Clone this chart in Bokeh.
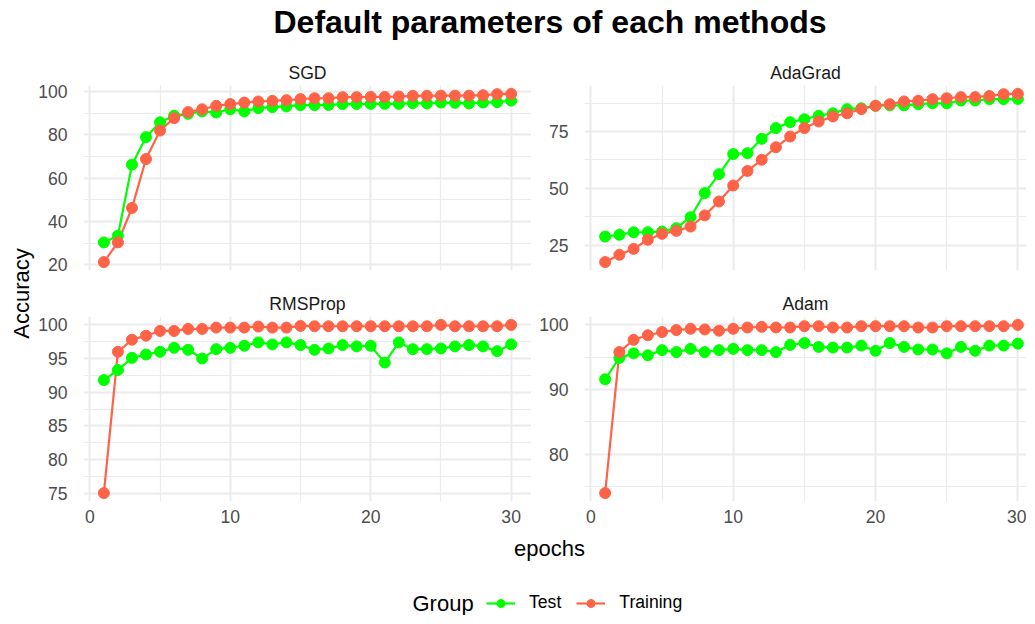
from bokeh.plotting import figure
from bokeh.layouts import column, row
from bokeh.models import Range1d, FixedTicker, Legend, LegendItem
from bokeh.core.properties import value
from bokeh.embed import file_html
from bokeh.resources import INLINE

# ---------------- data ----------------
epochs = [1, 2, 3, 4, 5, 6, 7, 8, 9, 10, 11, 12, 13, 14, 15,
          16, 17, 18, 19, 20, 21, 22, 23, 24, 25, 26, 27, 28, 29, 30]

sgd_test = [30.3, 33.4, 66.2, 78.9, 85.8, 88.8, 89.7, 90.8, 90.3, 91.8,
            90.8, 92.3, 92.8, 93.1, 93.7, 93.7, 93.8, 94.2, 94.2, 94.3,
            94.3, 94.3, 94.6, 94.5, 94.9, 94.8, 94.5, 94.9, 95.1, 95.8]
sgd_train = [21.2, 30.3, 46.2, 68.8, 82.0, 87.7, 90.5, 91.8, 93.4, 94.2,
             94.9, 95.4, 95.7, 96.0, 96.5, 96.9, 96.9, 97.4, 97.4, 97.5,
             97.5, 97.7, 98.0, 98.0, 98.1, 98.1, 98.1, 98.3, 98.8, 98.9]

adagrad_test = [28.9, 29.7, 30.8, 30.8, 31.1, 32.6, 37.4, 48.0, 56.3, 65.1,
                65.5, 71.8, 76.5, 79.1, 80.4, 81.9, 83.0, 84.8, 85.2, 86.3,
                86.5, 86.5, 87.0, 87.4, 87.4, 88.6, 88.6, 89.2, 89.2, 89.3]
adagrad_train = [17.7, 20.9, 23.5, 27.5, 30.1, 31.4, 33.3, 38.2, 44.3, 51.3,
                 57.7, 62.6, 68.1, 72.8, 76.5, 79.4, 81.6, 83.0, 84.8, 86.3,
                 87.0, 88.2, 88.5, 89.2, 89.6, 90.1, 90.1, 90.6, 91.4, 91.5]

rmsprop_test = [91.8, 93.3, 95.1, 95.6, 96.0, 96.6, 96.3, 95.0, 96.4, 96.6,
                96.9, 97.4, 97.1, 97.4, 97.0, 96.3, 96.5, 97.0, 96.8, 96.9,
                94.4, 97.4, 96.4, 96.4, 96.5, 96.8, 97.0, 96.8, 96.1, 97.1]
rmsprop_train = [75.0, 96.0, 97.8, 98.4, 99.1, 99.1, 99.4, 99.4, 99.6, 99.6,
                 99.6, 99.75, 99.6, 99.6, 99.85, 99.8, 99.8, 99.8, 99.8, 99.8,
                 99.8, 99.8, 99.8, 99.8, 100.0, 99.8, 99.8, 99.8, 99.8, 100.0]

adam_test = [91.6, 94.9, 95.6, 95.3, 96.1, 95.8, 96.3, 95.8, 96.1, 96.3,
             96.1, 96.1, 95.8, 96.9, 97.2, 96.6, 96.5, 96.5, 96.8, 96.0,
             97.2, 96.6, 96.2, 96.2, 95.6, 96.6, 96.0, 96.8, 96.8, 97.1]
adam_train = [74.0, 95.8, 97.7, 98.4, 98.9, 99.2, 99.4, 99.3, 99.1, 99.4,
              99.6, 99.7, 99.6, 99.6, 99.8, 99.8, 99.6, 99.6, 99.8, 99.8,
              99.8, 99.8, 99.6, 99.6, 99.8, 99.8, 99.8, 99.8, 99.8, 100.0]

x_ticks = [0, 10, 20, 30]
x_minor = [5, 15, 25]
sgd_ticks, sgd_minor = [20, 40, 60, 80, 100], [30, 50, 70, 90]
adagrad_ticks, adagrad_minor = [25, 50, 75], [37.5, 62.5, 87.5]
rmsprop_ticks, rmsprop_minor = [75, 80, 85, 90, 95, 100], [77.5, 82.5, 87.5, 92.5, 97.5]
adam_ticks, adam_minor = [80, 90, 100], [75, 85, 95]

title_text = "Default parameters of each methods"
group_names = ["Test", "Training"]

# ---------------- style ----------------
FONT = "Liberation Sans"
TEST_COLOR = "#00FF00"
TRAIN_COLOR = "#FF6347"
GRID = "#EBEBEB"
FRAME_H = 185
FRAME_W = 454

x_lo = min(epochs) - 0.05 * (max(epochs) - min(epochs))
x_hi = max(epochs) + 0.05 * (max(epochs) - min(epochs))
ppu = FRAME_W / (x_hi - x_lo)


def panel(name, test, train, yticks, yminor, width, left, top, bottom, show_x, frame_w):
    lo = min(min(test), min(train))
    hi = max(max(test), max(train))
    pad = 0.05 * (hi - lo)
    p = figure(width=width, height=top + FRAME_H + bottom,
               x_range=Range1d(x_lo, x_lo + frame_w / ppu),
               y_range=Range1d(lo - pad, hi + pad),
               output_backend="svg", toolbar_location=None,
               min_border_left=left, min_border_right=0,
               min_border_top=top, min_border_bottom=bottom,
               title=name)
    p.outline_line_color = None
    p.title.align = "center"
    p.title.text_font = FONT
    p.title.text_font_size = "17.6px"
    p.title.text_font_style = "normal"
    p.title.text_color = "#1A1A1A"
    p.title.standoff = 6

    xt = FixedTicker(ticks=x_ticks, minor_ticks=x_minor)
    yt = FixedTicker(ticks=yticks, minor_ticks=yminor)
    p.xaxis.ticker = xt
    p.yaxis.ticker = yt
    p.xgrid.ticker = xt
    p.ygrid.ticker = yt
    for g in (p.xgrid, p.ygrid):
        g.grid_line_color = GRID
        g.grid_line_width = 2
        g.minor_grid_line_color = GRID
        g.minor_grid_line_width = 1.2
    p.axis.axis_line_color = None
    p.axis.major_tick_line_color = None
    p.axis.minor_tick_line_color = None
    p.axis.major_tick_out = 0
    p.axis.major_tick_in = 0
    p.axis.major_label_text_font = FONT
    p.axis.major_label_text_font_size = "17.6px"
    p.axis.major_label_text_color = "#4D4D4D"
    p.yaxis.major_label_standoff = 12
    p.xaxis.major_label_standoff = 4
    p.xaxis.visible = show_x

    p.line(epochs, test, line_color=TEST_COLOR, line_width=2.2)
    p.line(epochs, train, line_color=TRAIN_COLOR, line_width=2.2)
    p.scatter(epochs, test, size=11, fill_color=TEST_COLOR, line_color=TEST_COLOR)
    p.scatter(epochs, train, size=11, fill_color=TRAIN_COLOR, line_color=TRAIN_COLOR)
    return p


LEFT_W, RIGHT_W = 496, 495
p_sgd = panel("SGD", sgd_test, sgd_train, sgd_ticks, sgd_minor,
              LEFT_W, 42, 28, 12, False, FRAME_W)
p_ada = panel("AdaGrad", adagrad_test, adagrad_train, adagrad_ticks, adagrad_minor,
              RIGHT_W, 53, 28, 12, False, RIGHT_W - 53)
p_rms = panel("RMSProp", rmsprop_test, rmsprop_train, rmsprop_ticks, rmsprop_minor,
              LEFT_W, 42, 34, 30, True, FRAME_W)
p_adam = panel("Adam", adam_test, adam_train, adam_ticks, adam_minor,
               RIGHT_W, 53, 34, 30, True, RIGHT_W - 53)


def blank(w, h):
    f = figure(width=w, height=h, x_range=Range1d(0, w), y_range=Range1d(0, h),
               output_backend="svg", toolbar_location=None,
               min_border=0, x_axis_location=None, y_axis_location=None)
    f.grid.visible = False
    f.outline_line_color = None
    return f


TOTAL_W = 1019
# title
T_H = 57
t_fig = blank(TOTAL_W, T_H)
t_fig.text(x=[549.5], y=[T_H - 21.5], text=[title_text], text_font=value(FONT),
           text_font_size="32px", text_font_style="bold", text_color="black",
           text_align="center", text_baseline="alphabetic")

# y axis title
rows_h = (28 + FRAME_H + 12) + (34 + FRAME_H + 30)
A_W = 35
a_fig = blank(A_W, rows_h)
a_fig.text(x=[20.5], y=[rows_h - 236], text=["Accuracy"], angle=1.5707963,
           text_font=value(FONT), text_font_size="22px", text_color="black",
           text_align="center", text_baseline="alphabetic")

# x axis title + legend
B_H = 84
b_fig = blank(TOTAL_W, B_H)
b_fig.text(x=[549], y=[B_H - 17], text=["epochs"], text_font=value(FONT),
           text_font_size="22px", text_color="black",
           text_align="center", text_baseline="alphabetic")
b_fig.text(x=[412], y=[12], text=["Group"], text_font=value(FONT),
           text_font_size="22px", text_color="black",
           text_align="left", text_baseline="middle")
# legend glyph renderers: real series drawn on a range that keeps them off-canvas
b_fig.extra_y_ranges = {"hidden": Range1d(500, 600)}
lt = b_fig.line(epochs, adam_test, line_color=TEST_COLOR, line_width=2.2, y_range_name="hidden")
st = b_fig.scatter(epochs, adam_test, fill_color=TEST_COLOR, line_color=TEST_COLOR,
                   size=11, y_range_name="hidden")
lr = b_fig.line(epochs, adam_train, line_color=TRAIN_COLOR, line_width=2.2, y_range_name="hidden")
sr = b_fig.scatter(epochs, adam_train, fill_color=TRAIN_COLOR, line_color=TRAIN_COLOR,
                   size=11, y_range_name="hidden")
legend = Legend(items=[LegendItem(label=group_names[0], renderers=[lt, st]),
                       LegendItem(label=group_names[1], renderers=[lr, sr])],
                orientation="horizontal", location=(486, 2),
                padding=0, margin=0, spacing=15, label_standoff=14,
                glyph_width=29, glyph_height=20, label_height=20,
                label_text_font=FONT, label_text_font_size="17.6px",
                label_text_color="black",
                border_line_color=None, background_fill_alpha=0)
b_fig.add_layout(legend)

layout = column(t_fig,
                row(a_fig, column(row(p_sgd, p_ada), row(p_rms, p_adam))),
                b_fig)

open("out.html", "w").write(file_html(layout, INLINE))
